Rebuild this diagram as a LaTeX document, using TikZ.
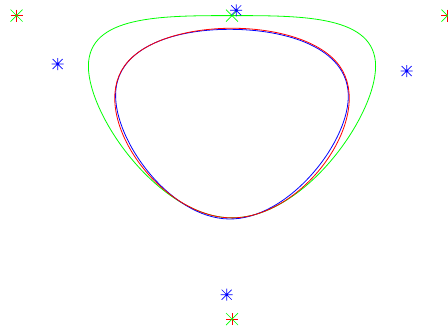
\documentclass[tikz,border=0pt]{standalone}
\usetikzlibrary{calc}
\tikzset{
  curve/.style={line width=0.8pt},
  pics/plusmk/.style={code={\draw[line width=0.7pt] (-6,0)--(6,0) (0,-6)--(0,6);}},
  pics/crossmk/.style={code={\draw[line width=0.7pt] (-6,-6)--(6,6) (-6,6)--(6,-6);}},
  pics/astmk/.style={code={\draw[line width=0.7pt] (-6,0)--(6,0) (0,-6)--(0,6) (-5,-5)--(5,5) (-5,5)--(5,-5);}}
}
\begin{document}
\begin{tikzpicture}[x=1pt,y=-1pt]
\useasboundingbox (0,0) rectangle (448,330);
\clip (0,0) rectangle (448,330);
% control points
\coordinate (A) at (16.6,15.6);
\coordinate (B) at (447.4,15.6);
\coordinate (C) at (232,319);
\coordinate (M) at (232,15.6);
\coordinate (D1) at (57.7,64);
\coordinate (D2) at (236.2,10.3);
\coordinate (D3) at (406.7,71);
\coordinate (D4) at (226.7,294.7);
% green: periodic cubic B-spline A, M, B, C
\draw[curve,green]
  ($0.16667*(C)+0.66667*(A)+0.16667*(M)$)
  .. controls ($(A)!0.33333!(M)$) and ($(A)!0.66667!(M)$) ..
  ($0.16667*(A)+0.66667*(M)+0.16667*(B)$)
  .. controls ($(M)!0.33333!(B)$) and ($(M)!0.66667!(B)$) ..
  ($0.16667*(M)+0.66667*(B)+0.16667*(C)$)
  .. controls ($(B)!0.33333!(C)$) and ($(B)!0.66667!(C)$) ..
  ($0.16667*(B)+0.66667*(C)+0.16667*(A)$)
  .. controls ($(C)!0.33333!(A)$) and ($(C)!0.66667!(A)$) ..
  cycle;
% blue: periodic cubic B-spline D1..D4
\draw[curve,blue]
  ($0.16667*(D4)+0.66667*(D1)+0.16667*(D2)$)
  .. controls ($(D1)!0.33333!(D2)$) and ($(D1)!0.66667!(D2)$) ..
  ($0.16667*(D1)+0.66667*(D2)+0.16667*(D3)$)
  .. controls ($(D2)!0.33333!(D3)$) and ($(D2)!0.66667!(D3)$) ..
  ($0.16667*(D2)+0.66667*(D3)+0.16667*(D4)$)
  .. controls ($(D3)!0.33333!(D4)$) and ($(D3)!0.66667!(D4)$) ..
  ($0.16667*(D3)+0.66667*(D4)+0.16667*(D1)$)
  .. controls ($(D4)!0.33333!(D1)$) and ($(D4)!0.66667!(D1)$) ..
  cycle;
% red: periodic cubic B-spline A, B, C
\draw[curve,red]
  ($0.16667*(C)+0.66667*(A)+0.16667*(B)$)
  .. controls ($(A)!0.33333!(B)$) and ($(A)!0.66667!(B)$) ..
  ($0.16667*(A)+0.66667*(B)+0.16667*(C)$)
  .. controls ($(B)!0.33333!(C)$) and ($(B)!0.66667!(C)$) ..
  ($0.16667*(B)+0.66667*(C)+0.16667*(A)$)
  .. controls ($(C)!0.33333!(A)$) and ($(C)!0.66667!(A)$) ..
  cycle;
% markers
\foreach \p in {A,B,C} \pic[red] at (\p) {plusmk};
\foreach \p in {A,M,B,C} \pic[green] at (\p) {crossmk};
\foreach \p in {D1,D2,D3,D4} \pic[blue] at (\p) {astmk};
\end{tikzpicture}
\end{document}
